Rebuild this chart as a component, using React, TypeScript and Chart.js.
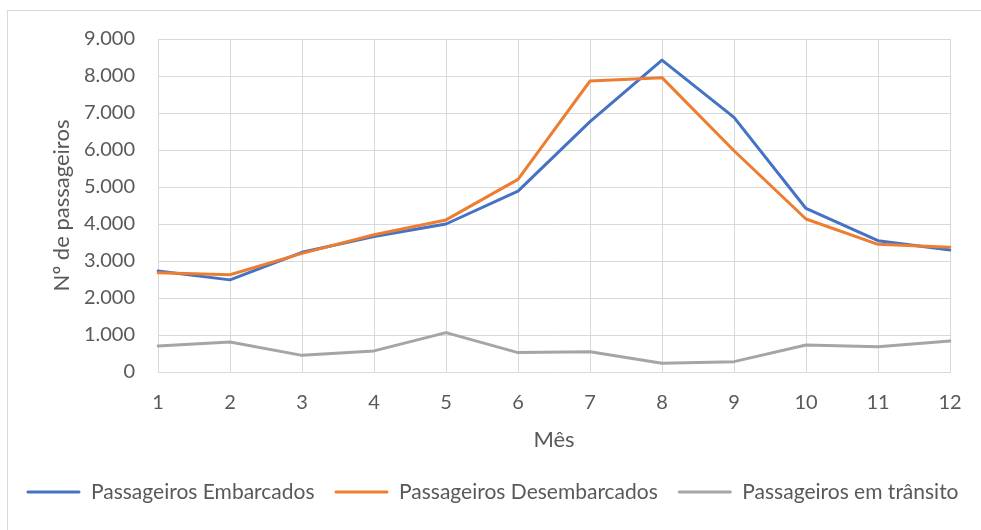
import React, { useEffect, useRef } from "react";
import { Chart, registerables } from "chart.js";

Chart.register(...registerables);

const months = ["1", "2", "3", "4", "5", "6", "7", "8", "9", "10", "11", "12"];
const embarcados = [2730, 2490, 3235, 3660, 4000, 4890, 6765, 8430, 6880, 4420, 3550, 3300];
const desembarcados = [2685, 2630, 3205, 3710, 4110, 5205, 7865, 7955, 5980, 4135, 3450, 3370];
const transito = [705, 810, 450, 570, 1065, 525, 550, 235, 280, 730, 685, 840];

const FONT = "Lato, 'Liberation Sans', sans-serif";
const TEXT = "#595959";
const GRID = "#d9d9d9";

const frame = {
  id: "frame",
  beforeDraw(chart: any) {
    const ctx = chart.ctx;
    ctx.save();
    ctx.fillStyle = "#ffffff";
    ctx.fillRect(0, 0, chart.width, chart.height);
    ctx.strokeStyle = GRID;
    ctx.lineWidth = 1;
    ctx.strokeRect(7.5, 10.5, 1200, 1200);
    ctx.restore();
  },
};

const thousands = (v: number) => {
  const s = String(Math.round(v));
  return s.replace(/\B(?=(\d{3})+(?!\d))/g, ".");
};

export default function App() {
  const ref = useRef<HTMLCanvasElement | null>(null);

  useEffect(() => {
    if (!ref.current) return;
    const line = (label: string, data: number[], color: string, order: number) => ({
      label,
      data,
      borderColor: color,
      backgroundColor: color,
      borderWidth: 3,
      pointRadius: 0,
      tension: 0,
      fill: false,
      borderJoinStyle: "round" as const,
      borderCapStyle: "round" as const,
      order,
      yAxisID: "y",
    });
    const chart = new Chart(ref.current, {
      type: "line",
      data: {
        labels: months,
        datasets: [
          line("Passageiros Embarcados", embarcados, "#4472C4", 3),
          line("Passageiros Desembarcados", desembarcados, "#ED7D31", 2),
          line("Passageiros em trânsito", transito, "#A5A5A5", 1),
        ],
      },
      options: {
        animation: false,
        responsive: true,
        maintainAspectRatio: false,
        layout: { padding: { left: 4, top: 39, right: 0, bottom: 17.5 } },
        plugins: {
          tooltip: { enabled: false },
          legend: {
            position: "bottom",
            labels: {
              boxWidth: 54,
              boxHeight: 3,
              padding: 20,
              color: TEXT,
              font: { family: FONT, size: 21 },
              sort: (a: any, b: any) => a.datasetIndex - b.datasetIndex,
              generateLabels: (c: any) =>
                Chart.defaults.plugins.legend.labels
                  .generateLabels(c)
                  .map((l: any) => ({ ...l, lineWidth: 0, borderRadius: 1.5 })),
            },
          },
        },
        scales: {
          x: {
            type: "category",
            offset: false,
            grid: { color: GRID, drawTicks: false, lineWidth: 1 },
            border: { color: GRID },
            ticks: {
              color: TEXT,
              font: { family: FONT, size: 20 },
              padding: 19,
              maxRotation: 0,
              autoSkip: false,
            },
            title: {
              display: true,
              text: "Mês",
              color: TEXT,
              font: { family: FONT, size: 22 },
              padding: { top: 4, bottom: 8.3 },
            },
            afterFit: (s: any) => {
              s.height = 89.5;
            },
          },
          y: {
            min: 0,
            max: 9000,
            grid: { color: GRID, drawTicks: false, lineWidth: 1 },
            border: { color: GRID },
            ticks: {
              stepSize: 1000,
              color: TEXT,
              font: { family: FONT, size: 20 },
              padding: 23,
              callback: (v: any) => thousands(Number(v)),
            },
            title: {
              display: true,
              text: "Nº de passageiros",
              color: TEXT,
              font: { family: FONT, size: 22 },
              padding: { top: 45, bottom: 0 },
            },
            afterFit: (s: any) => {
              s.width = 154;
            },
          },
          // empty right-hand gutter so the last month label has room
          gutter: {
            position: "right",
            min: 0,
            max: 1,
            grid: { display: false },
            border: { display: false },
            ticks: { display: false },
            afterFit: (s: any) => {
              s.width = 31;
            },
          },
        },
      },
      plugins: [frame],
    });
    return () => chart.destroy();
  }, []);

  return (
    <div style={{ position: "fixed", left: 0, top: 0, width: 981, height: 530 }}>
      <canvas ref={ref} />
    </div>
  );
}
